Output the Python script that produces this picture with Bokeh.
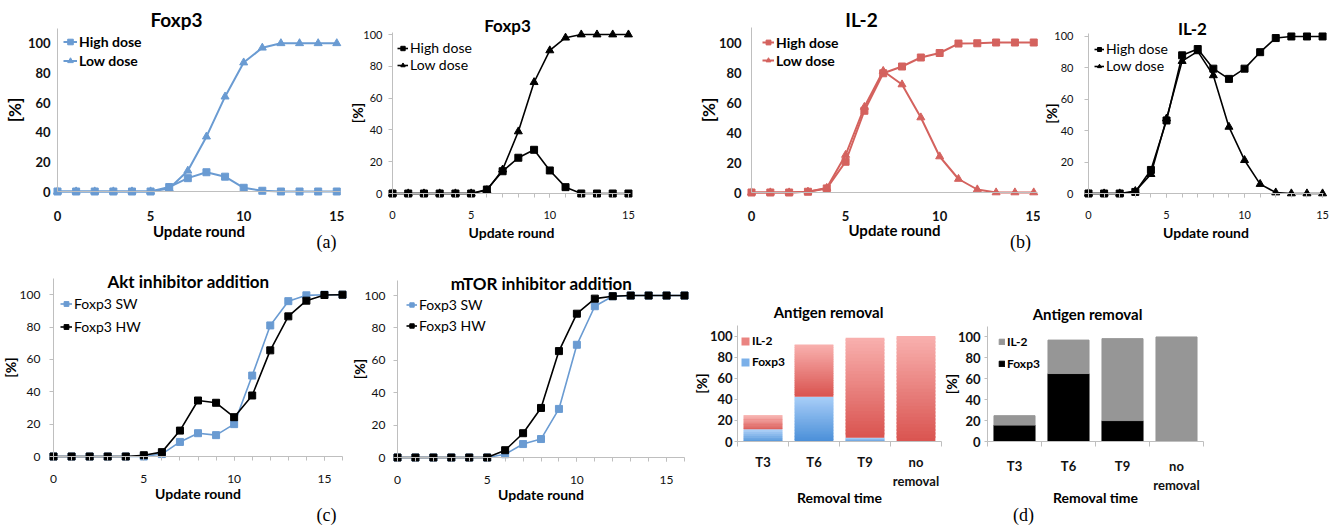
import numpy as np
from bokeh.plotting import figure
from bokeh.models import Range1d, FixedTicker, Label, Legend, LegendItem, ColumnDataSource
from bokeh.layouts import row, column
from bokeh.embed import file_html
from bokeh.resources import INLINE

# ---------------- data ----------------
rounds15 = list(range(16))
rounds16 = list(range(17))

foxp3_high = [0, 0, 0, 0, 0, 0, 3, 9, 13, 10, 2.5, 0.5, 0, 0, 0, 0]
foxp3_low = [0, 0, 0, 0, 0, 0, 2, 14, 37, 64, 87, 97, 100, 100, 100, 100]
foxp3b_high = [0, 0, 0, 0, 0, 0, 2.5, 14, 22.5, 27.5, 14.5, 4, 0, 0, 0, 0]
foxp3b_low = [0, 0, 0, 0, 0, 0, 2, 15, 39, 70, 90, 98, 100, 100, 100, 100]
il2_high = [0, 0, 0, 0.5, 2.7, 20.5, 54.5, 79.5, 84, 90, 93, 99.3, 99.5, 100, 100, 100]
il2_low = [0, 0, 0, 0.5, 3, 25, 57, 81, 72, 50, 24, 9, 2, 0, 0, 0]
il2b_high = [0, 0, 0, 1, 15, 46.5, 88, 92, 79.5, 73, 79.5, 90, 99, 100, 100, 100]
il2b_low = [0, 0, 0, 1.5, 12.3, 47.7, 84.3, 90.5, 75.2, 42.4, 21.2, 6, 0.6, 0, 0, 0]
akt_sw = [0, 0, 0, 0, 0, 0, 1.5, 9, 14.4, 13.2, 20, 50, 81, 96, 99.6, 100, 100]
akt_hw = [0, 0, 0, 0, 0, 0.8, 2.7, 16, 34.6, 33.2, 24.3, 37.7, 65.6, 86.6, 96.3, 99.8, 100]
mtor_sw = [0, 0, 0, 0, 0, 0, 2, 8.3, 11.4, 30, 69.6, 93.4, 99.6, 100, 100, 100, 100]
mtor_hw = [0, 0, 0, 0, 0, 0, 4.5, 15, 30.6, 65.7, 88.8, 98.1, 99.6, 100, 100, 100, 100]

removal = ["T3", "T6", "T9", "no\nremoval"]
ag1_foxp3 = [11.5, 42.5, 3.5, 0]
ag1_il2 = [13.5, 49.5, 95, 100]
ag2_foxp3 = [15.7, 65, 20, 0]
ag2_il2 = [9, 32, 78.4, 100]

x_major = [0, 5, 10, 15]
y_major = [0, 20, 40, 60, 80, 100]

# ---------------- styles ----------------
FONT = "Lato"
AXC = "#bfbfbf"
BLUE = "#6a9bd2"
RED = "#d4625e"
BLACK = "#000000"
GRAY = "#969696"


def mk(fig_box, data_box, xr, yr):
    """fig_box: (left, top, width, height) on the page; data_box: pixel box of the axes."""
    fx, fy, W, H = fig_box
    l, t, r, b = data_box
    kx = (r - l) / (xr[1] - xr[0])
    ky = (b - t) / (yr[1] - yr[0])
    x0 = xr[0] - (l - fx) / kx
    x1 = xr[1] + (fx + W - r) / kx
    y0 = yr[0] - (fy + H - b) / ky
    y1 = yr[1] + (t - fy) / ky
    p = figure(width=W, height=H, x_range=Range1d(x0, x1), y_range=Range1d(y0, y1),
               output_backend="svg", toolbar_location=None, min_border=0)
    p.outline_line_color = None
    p.xgrid.grid_line_color = None
    p.ygrid.grid_line_color = None
    p.xaxis.fixed_location = yr[0]
    p.yaxis.fixed_location = xr[0]
    p.xaxis.bounds = (xr[0], xr[1])
    p.yaxis.bounds = (yr[0], yr[1])

    def conv(rx, ry):
        return (x0 + (rx - fx) / kx, y1 - (ry - fy) / ky)

    geo = dict(H=H, top=t - fy, left=l - fx)
    return p, conv, geo


def axes(p, size, bold, lab_size, xlabel, ylabel, xt, xminor, tick_out,
         x_so, y_so, xl_so, yl_so, ylab_size=None, x_overrides=None,
         xmajor_out=None):
    xa, ya = p.xaxis[0], p.yaxis[0]
    for ax in (xa, ya):
        ax.axis_line_color = AXC
        ax.major_tick_line_color = AXC
        ax.minor_tick_line_color = AXC
        ax.major_tick_in = 0
        ax.minor_tick_in = 0
        ax.major_label_text_font = FONT
        ax.major_label_text_font_size = f"{size}px"
        ax.major_label_text_font_style = "bold" if bold else "normal"
        ax.major_label_text_color = "#111111"
        ax.axis_label_text_font = FONT
        ax.axis_label_text_font_style = "bold"
        ax.axis_label_text_color = "#000000"
    xa.axis_label_text_font_size = f"{lab_size}px"
    ya.axis_label_text_font_size = f"{ylab_size or lab_size}px"
    xa.ticker = FixedTicker(ticks=xt, minor_ticks=xminor)
    ya.ticker = FixedTicker(ticks=y_major, minor_ticks=[])
    xa.major_tick_out = tick_out if xmajor_out is None else xmajor_out
    xa.minor_tick_out = tick_out
    ya.major_tick_out = tick_out
    ya.minor_tick_out = 0
    xa.major_label_standoff = x_so
    ya.major_label_standoff = y_so
    xa.axis_label = xlabel
    ya.axis_label = ylabel
    xa.axis_label_standoff = xl_so
    ya.axis_label_standoff = yl_so
    if x_overrides:
        xa.major_label_overrides = x_overrides


def legend(p, geo, items, left_off, top_off, rowh, glyph_w, fsize, bold, glyph_h=None):
    n = len(items)
    h = n * rowh
    leg = Legend(items=items,
                 location=(geo["left"] + left_off, geo["H"] - geo["top"] - top_off - h))
    leg.padding = 0
    leg.margin = 0
    leg.spacing = 0
    leg.border_line_color = None
    leg.background_fill_alpha = 0
    leg.glyph_width = glyph_w
    leg.glyph_height = glyph_h or rowh
    leg.label_height = rowh
    leg.label_standoff = 2
    leg.label_text_font = FONT
    leg.label_text_font_size = f"{fsize}px"
    leg.label_text_font_style = "bold" if bold else "normal"
    leg.label_text_color = "#000000"
    p.add_layout(leg)


def text(p, conv, rx, ry, s, size, bold=True, font=FONT):
    x, y = conv(rx, ry)
    p.add_layout(Label(x=x, y=y, text=s, text_align="center", text_baseline="middle",
                       text_font=font, text_font_size=f"{size}px",
                       text_font_style="bold" if bold else "normal", text_color="#000000"))


def series(p, xs, ys, color, marker, msize, lw):
    l = p.line(xs, ys, line_color=color, line_width=lw)
    s = p.scatter(xs, ys, marker=marker, size=msize, fill_color=color, line_color=color)
    return [l, s]


def mix(c1, c2, f):
    a = [int(c1[i:i + 2], 16) for i in (1, 3, 5)]
    b = [int(c2[i:i + 2], 16) for i in (1, 3, 5)]
    return "#%02x%02x%02x" % tuple(int(round(a[k] + (b[k] - a[k]) * f)) for k in range(3))


def grad_bars(p, xs, bottoms, tops, c_top, c_bot, width, n=30):
    """Stacked-bar segment drawn as thin slices so the fill runs from c_bot to c_top."""
    X, B, T, C = [], [], [], []
    for x, b0, t0 in zip(xs, bottoms, tops):
        if t0 <= b0:
            continue
        edges = np.linspace(b0, t0, n + 1)
        step = edges[1] - edges[0]
        for i in range(n):
            f = (i + 0.5) / n
            top_i = edges[i + 1] + (0.6 * step if i < n - 1 else 0)
            X.append(x); B.append(edges[i]); T.append(top_i); C.append(mix(c_bot, c_top, f))
    src = ColumnDataSource(dict(x=X, bottom=B, top=T, color=C))
    return p.vbar(x="x", bottom="bottom", top="top", width=width, fill_color="color",
                  line_color=None, source=src), n // 2


TOP_H = 263
BOT_Y = 263
BOT_H = 262

# ---------------- (a) left ----------------
p1, c1, g1 = mk((0, 0, 345, TOP_H), (57, 28, 340, 191), (0, 15.2), (0, 110))
r_hi = series(p1, rounds15, foxp3_high, BLUE, "square", 7, 2)
r_lo = series(p1, rounds15, foxp3_low, BLUE, "triangle", 8, 2)
axes(p1, 13, True, 15, "Update round", "[%]", x_major, [], 0, 19, 7, -2, 0, ylab_size=17)
legend(p1, g1, [LegendItem(label="High dose", renderers=r_hi), LegendItem(label="Low dose", renderers=r_lo)],
       6, 4, 19, 14, 14, True)
text(p1, c1, 176, 19, "Foxp3", 19)
text(p1, c1, 326, 241, "(a)", 18, bold=False, font="Liberation Serif")

# ---------------- (a) right ----------------
p2, c2, g2 = mk((345, 0, 325, TOP_H), (392, 32, 630, 193), (0, 15.13), (0, 101.3))
r_hi = series(p2, rounds15, foxp3b_high, BLACK, "square", 7, 1.6)
r_lo = series(p2, rounds15, foxp3b_low, BLACK, "triangle", 8, 1.6)
axes(p2, 11, False, 14, "Update round", "[%]", x_major, rounds15, 4, 13, 6, 2, -6)
legend(p2, g2, [LegendItem(label="High dose", renderers=r_hi), LegendItem(label="Low dose", renderers=r_lo)],
       5, 9, 16, 11, 14, False)
text(p2, c2, 507, 25, "Foxp3", 17)

# ---------------- (b) left ----------------
p3, c3, g3 = mk((670, 0, 370, TOP_H), (751, 27, 1037, 192), (0, 15.2), (0, 110))
r_hi = series(p3, rounds15, il2_high, RED, "square", 7, 2)
r_lo = series(p3, rounds15, il2_low, RED, "triangle", 8, 2)
axes(p3, 13, True, 15, "Update round", "[%]", x_major, [], 0, 18, 10, -3, -3, ylab_size=17)
legend(p3, g3, [LegendItem(label="High dose", renderers=r_hi), LegendItem(label="Low dose", renderers=r_lo)],
       11, 6, 18, 12, 14, True)
text(p3, c3, 861, 19, "IL-2", 19)
text(p3, c3, 1020, 241, "(b)", 18, bold=False, font="Liberation Serif")

# ---------------- (b) right ----------------
p4, c4, g4 = mk((1040, 0, 289, TOP_H), (1088, 33, 1323, 193), (0, 15.06), (0, 101.9))
r_hi = series(p4, rounds15, il2b_high, BLACK, "square", 7, 1.6)
r_lo = series(p4, rounds15, il2b_low, BLACK, "triangle", 8, 1.6)
axes(p4, 11, False, 14, "Update round", "[%]", x_major, rounds15, 4, 13, 11, 2, -9)
legend(p4, g4, [LegendItem(label="High dose", renderers=r_hi), LegendItem(label="Low dose", renderers=r_lo)],
       6, 9, 16, 10, 14, False)
text(p4, c4, 1192, 28, "IL-2", 17)

# ---------------- (c) left ----------------
p5, c5, g5 = mk((0, BOT_Y, 348, BOT_H), (53, 278, 342, 456), (0, 16), (0, 110))
r_sw = series(p5, rounds16, akt_sw, BLUE, "square", 7, 1.6)
r_hw = series(p5, rounds16, akt_hw, BLACK, "square", 7, 1.6)
axes(p5, 12, False, 14, "Update round", "[%]", x_major, rounds16, 4, 14, 9, -1, -2)
legend(p5, g5, [LegendItem(label="Foxp3 SW", renderers=r_sw), LegendItem(label="Foxp3 HW", renderers=r_hw)],
       7, 14, 23, 12, 14, False)
text(p5, c5, 188, 281, "Akt inhibitor addition", 17)
text(p5, c5, 326, 514, "(c)", 18, bold=False, font="Liberation Serif")

# ---------------- (c) right ----------------
p6, c6, g6 = mk((348, BOT_Y, 342, BOT_H), (397, 280, 684, 457), (0, 16), (0, 109.3))
r_sw = series(p6, rounds16, mtor_sw, BLUE, "square", 7, 1.6)
r_hw = series(p6, rounds16, mtor_hw, BLACK, "square", 7, 1.6)
axes(p6, 12, False, 14, "Update round", "[%]", x_major, rounds16, 4, 14, 8, -1, -6)
legend(p6, g6, [LegendItem(label="Foxp3 SW", renderers=r_sw), LegendItem(label="Foxp3 HW", renderers=r_hw)],
       9, 14, 21, 11, 14, False)
text(p6, c6, 541, 283, "mTOR inhibitor addition", 17)

# ---------------- (d) left ----------------
cat_x = [i + 0.5 for i in range(len(removal))]
cat_edges = list(range(len(removal) + 1))
overrides = {x: lab for x, lab in zip(cat_x, removal)}

p7, c7, g7 = mk((690, BOT_Y, 252, BOT_H), (737, 325, 941, 441), (0, len(removal)), (0, 110))
tot1 = [a + b for a, b in zip(ag1_foxp3, ag1_il2)]
rb_f, kf = grad_bars(p7, cat_x, [0] * len(removal), ag1_foxp3, "#a9cef8", "#4a8fd8", 0.76)
rb_i, ki = grad_bars(p7, cat_x, ag1_foxp3, tot1, "#f9b1af", "#d9534f", 0.76)
axes(p7, 13, True, 14, "Removal time", "[%]", cat_x, cat_edges, 5, 7, 2, -3, -3,
     x_overrides=overrides, xmajor_out=0)
p7.yaxis[0].major_tick_out = 3
legend(p7, g7, [LegendItem(label="IL-2", renderers=[rb_i], index=ki),
                LegendItem(label="Foxp3", renderers=[rb_f], index=kf)],
       3, 5, 21, 10, 12, True, glyph_h=10)
text(p7, c7, 828, 311, "Antigen removal", 15)

# ---------------- (d) right ----------------
p8, c8, g8 = mk((942, BOT_Y, 387, BOT_H), (987, 326, 1203, 441), (0, len(removal)), (0, 110))
tot2 = [a + b for a, b in zip(ag2_foxp3, ag2_il2)]
rf = p8.vbar(x=cat_x, bottom=0, top=ag2_foxp3, width=0.76, fill_color=BLACK, line_color=BLACK)
ri = p8.vbar(x=cat_x, bottom=ag2_foxp3, top=tot2, width=0.76, fill_color=GRAY, line_color=GRAY)
axes(p8, 13, True, 14, "Removal time", "[%]", cat_x, cat_edges, 5, 11, 4, -7, -5,
     x_overrides=overrides, xmajor_out=0)
p8.yaxis[0].major_tick_out = 3
legend(p8, g8, [LegendItem(label="IL-2", renderers=[ri]), LegendItem(label="Foxp3", renderers=[rf])],
       11, 4, 22, 7, 12, True, glyph_h=7)
text(p8, c8, 1087, 313, "Antigen removal", 15)
text(p8, c8, 1023, 514, "(d)", 18, bold=False, font="Liberation Serif")

layout = column(row(p1, p2, p3, p4), row(p5, p6, p7, p8))
open("out.html", "w").write(file_html(layout, INLINE))
